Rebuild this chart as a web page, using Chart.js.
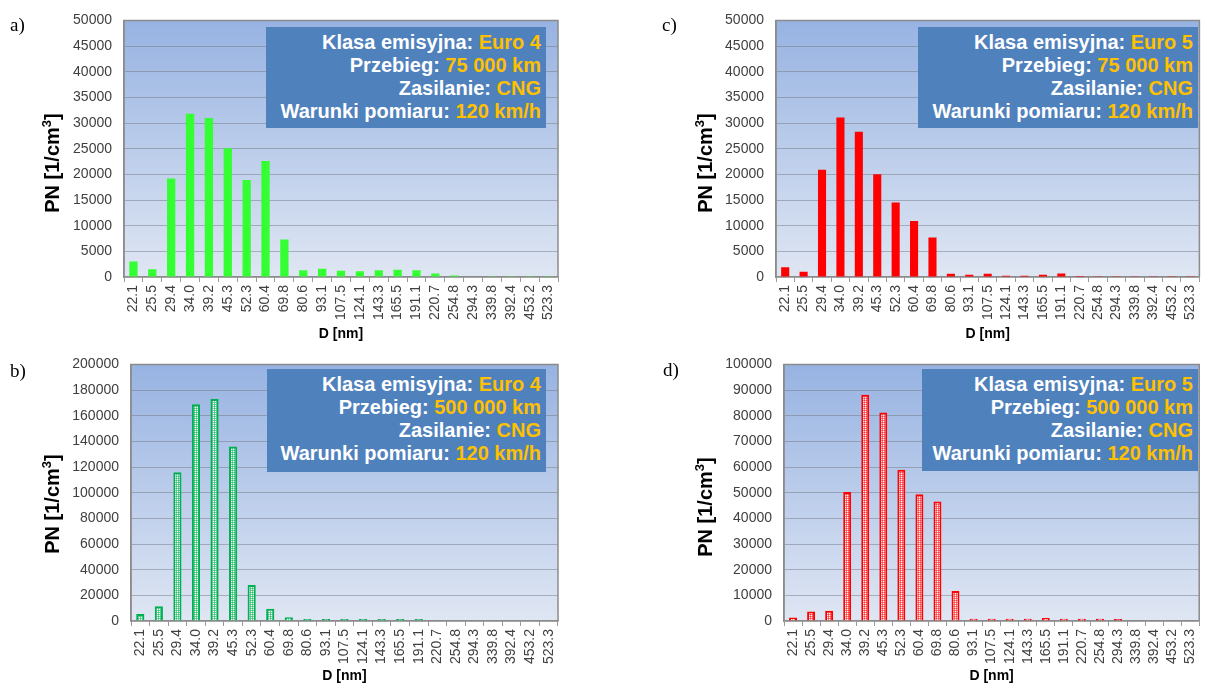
<!DOCTYPE html>
<html>
<head>
<meta charset="utf-8">
<script src="https://cdn.jsdelivr.net/npm/chart.js@4/dist/chart.umd.min.js"></script>
<style>
  html, body { margin:0; padding:0; background:#fff; overflow:hidden; }
  #wrap { position:relative; width:1208px; height:684px; overflow:hidden; font-family:"Liberation Sans", Arial, sans-serif; }
  canvas { position:absolute; }
  .plabel { position:absolute; font-family:"Liberation Serif","Times New Roman",serif; font-size:19px; color:#000; line-height:1; }
  .box { position:absolute; background:#4F81BD; color:#fff; font-weight:bold; font-size:20px; line-height:23px;
         text-align:right; box-sizing:border-box; padding:4px 5px 0 0; white-space:nowrap; }
  .box span { color:#FFC000; }
  .ytitle { position:absolute; font-weight:bold; font-size:20px; color:#000; white-space:nowrap;
            transform:translate(-50%,-50%) rotate(-90deg); }
  .ytitle sup { font-size:13px; vertical-align:0.55em; line-height:0; }
</style>
</head>
<body>
<div id="wrap">
  <canvas id="ca" width="580" height="343" style="left:0px;top:0px"></canvas>
  <canvas id="cb" width="580" height="341" style="left:0px;top:344px"></canvas>
  <canvas id="cc" width="606" height="343" style="left:604px;top:0px"></canvas>
  <canvas id="cd" width="606" height="341" style="left:604px;top:344px"></canvas>

  <div class="plabel" style="left:10px;top:15px">a)</div>
  <div class="plabel" style="left:10px;top:361px">b)</div>
  <div class="plabel" style="left:662px;top:15px">c)</div>
  <div class="plabel" style="left:663px;top:360px">d)</div>

  <div class="ytitle" style="left:52px;top:163px">PN [1/cm<sup>3</sup>]</div>
  <div class="ytitle" style="left:52px;top:504px">PN [1/cm<sup>3</sup>]</div>
  <div class="ytitle" style="left:705px;top:163px">PN [1/cm<sup>3</sup>]</div>
  <div class="ytitle" style="left:705px;top:507px">PN [1/cm<sup>3</sup>]</div>

  <div id="boxa" class="box" style="left:266px;top:27px;width:280px;height:101px"></div>
  <div id="boxb" class="box" style="left:267px;top:369px;width:279px;height:103px"></div>
  <div id="boxc" class="box" style="left:918px;top:27px;width:280px;height:101px"></div>
  <div id="boxd" class="box" style="left:922px;top:369px;width:276px;height:102px"></div>
</div>
<script>
// ---------- data ----------
const diameters = ['22.1','25.5','29.4','34.0','39.2','45.3','52.3','60.4','69.8','80.6','93.1','107.5',
                   '124.1','143.3','165.5','191.1','220.7','254.8','294.3','339.8','392.4','453.2','523.3'];
const pnEuro4_75k  = [3000,1500,19200,31800,31000,25100,18900,22600,7300,1300,1600,1200,1100,1300,1400,1300,700,300,100,60,150,150,150];
const pnEuro5_75k  = [1900,1000,20900,31100,28300,20000,14500,10900,7700,650,450,650,250,250,450,700,200,130,130,130,130,130,130];
const pnEuro4_500k = [5500,11500,116000,169000,173000,136000,28000,9500,3000,1500,1500,1500,1500,1500,1500,1500,600,600,600,600,600,600,600];
const pnEuro5_500k = [1400,3700,4000,50300,88200,81300,58900,49400,46600,11700,900,900,900,900,1200,900,900,900,800,300,300,300,300];
const yMaxA = 50000,  yStepA = 5000;
const yMaxB = 200000, yStepB = 20000;
const yMaxC = 50000,  yStepC = 5000;
const yMaxD = 100000, yStepD = 10000;
const infoLabels = ['Klasa emisyjna:', 'Przebieg:', 'Zasilanie:', 'Warunki pomiaru:'];
const infoA = ['Euro 4', '75 000 km', 'CNG', '120 km/h'];
const infoB = ['Euro 4', '500 000 km', 'CNG', '120 km/h'];
const infoC = ['Euro 5', '75 000 km', 'CNG', '120 km/h'];
const infoD = ['Euro 5', '500 000 km', 'CNG', '120 km/h'];

// ---------- info boxes ----------
function fillBox(id, vals){
  const el = document.getElementById(id);
  el.innerHTML = infoLabels.map((l,i)=>'<div>'+l+' <span>'+vals[i]+'</span></div>').join('');
}
fillBox('boxa', infoA); fillBox('boxb', infoB); fillBox('boxc', infoC); fillBox('boxd', infoD);

// ---------- helpers ----------
function hatch(color){
  const c = document.createElement('canvas');
  c.width = 2; c.height = 2;
  const x = c.getContext('2d');
  x.fillStyle = '#ffffff'; x.fillRect(0,0,2,2);
  x.fillStyle = color; x.fillRect(0,0,2,1); x.fillRect(0,0,1,2);
  return x.createPattern(c, 'repeat');
}

const plotBg = {
  id: 'plotBg',
  beforeDraw(chart){
    const {ctx, chartArea:{left,top,right,bottom}} = chart;
    const g = ctx.createLinearGradient(0, top, 0, bottom);
    g.addColorStop(0, '#97B3E2');
    g.addColorStop(1, '#DFE6F3');
    ctx.save();
    ctx.fillStyle = g;
    ctx.fillRect(left, top, right-left, bottom-top);
    ctx.restore();
  },
  afterDraw(chart){
    const {ctx, chartArea:{left,top,right,bottom}} = chart;
    ctx.save();
    ctx.strokeStyle = '#8C8C8C';
    ctx.lineWidth = 1.5;
    ctx.beginPath();
    ctx.moveTo(left, bottom); ctx.lineTo(left, top); ctx.lineTo(right, top); ctx.lineTo(right, bottom);
    ctx.stroke();
    ctx.restore();
  }
};

function makeChart(id, values, yMax, step, geom, style){
  const ds = {
    data: values,
    backgroundColor: style.fill,
    borderColor: style.border,
    borderWidth: style.bw,
    barPercentage: 0.44,
    categoryPercentage: 1.0
  };
  return new Chart(document.getElementById(id), {
    type: 'bar',
    data: { labels: diameters, datasets: [ds] },
    plugins: [plotBg],
    options: {
      responsive: false,
      animation: false,
      devicePixelRatio: 1,
      layout: { autoPadding: false, padding: { left: 0, top: geom.padT, right: geom.padR, bottom: 0 } },
      plugins: { legend: { display: false }, tooltip: { enabled: false } },
      scales: {
        x: {
          offset: true,
          grid: { display: true, offset: true, drawOnChartArea: false, drawTicks: true, tickLength: 5, color: '#9A9A9A' },
          border: { display: true, color: '#8C8C8C', width: 1.5 },
          ticks: { autoSkip: false, minRotation: 90, maxRotation: 90, padding: 3,
                   font: { family: '"Liberation Sans", Arial, sans-serif', size: 14 }, color: '#404040' },
          title: { display: true, text: 'D [nm]', padding: { top: 0, bottom: 0 },
                   font: { family: '"Liberation Sans", Arial, sans-serif', size: 14, weight: 'bold' }, color: '#000' },
          afterFit(scale){ scale.height = geom.xH; }
        },
        y: {
          min: 0, max: yMax,
          grid: { color: 'rgba(110,110,120,0.45)', lineWidth: 1, drawTicks: false },
          border: { display: true, color: '#8C8C8C', width: 1.5 },
          ticks: { stepSize: step, padding: 12, callback: (v) => String(v),
                   font: { family: '"Liberation Sans", Arial, sans-serif', size: 14 }, color: '#404040' },
          afterFit(scale){ scale.width = geom.yW; }
        }
      }
    }
  });
}

const solidGreen = { fill: '#33FF33', border: '#33FF33', bw: 0 };
const solidRed   = { fill: '#FF0000', border: '#FF0000', bw: 0 };
const hatchGreen = { fill: hatch('rgba(0,176,80,0.55)'), border: '#00B050', bw: 2 };
const hatchRed   = { fill: hatch('rgba(255,0,0,0.5)'), border: '#FF0000', bw: 2 };

makeChart('ca', pnEuro4_75k,  yMaxA, yStepA, { yW:124, padR:22, padT:18, xH:66 }, solidGreen);
makeChart('cb', pnEuro4_500k, yMaxB, yStepB, { yW:131, padR:22, padT:18, xH:64 }, hatchGreen);
makeChart('cc', pnEuro5_75k,  yMaxC, yStepC, { yW:172, padR:0,  padT:18, xH:66 }, solidRed);
makeChart('cd', pnEuro5_500k, yMaxD, yStepD, { yW:180, padR:0,  padT:18, xH:64 }, hatchRed);
</script>
</body>
</html>
